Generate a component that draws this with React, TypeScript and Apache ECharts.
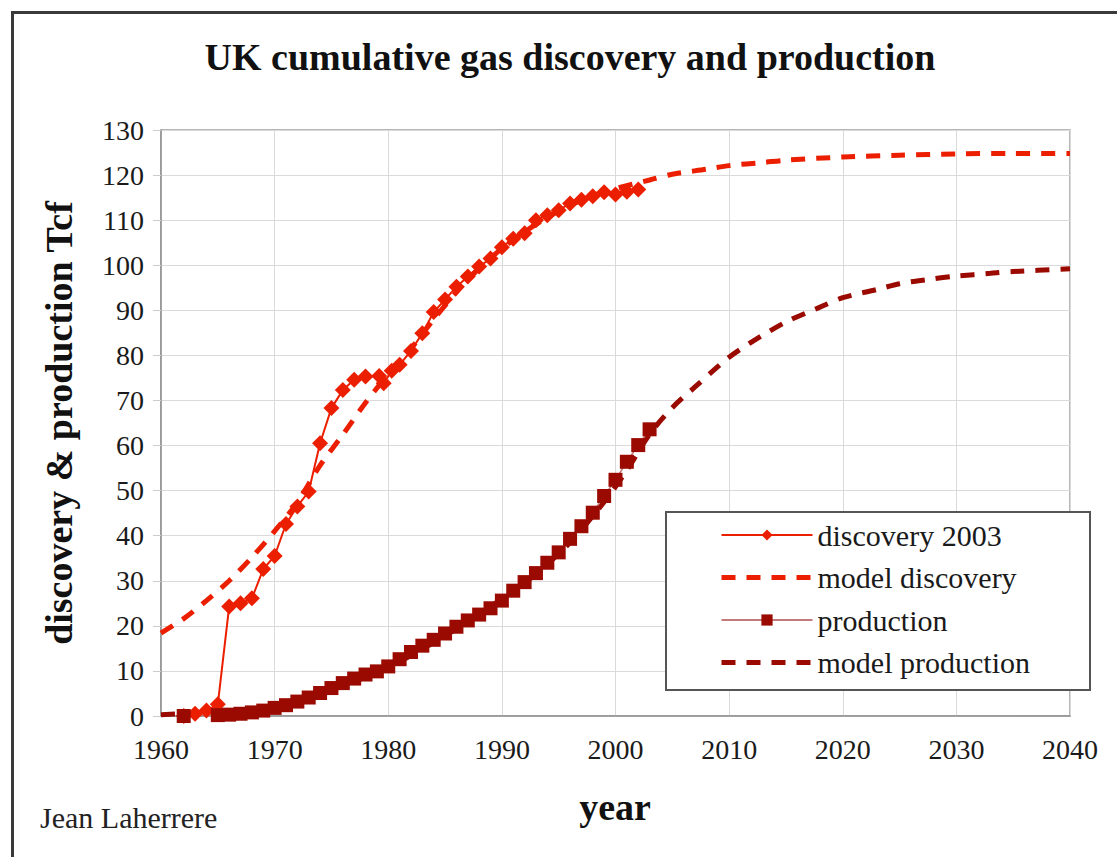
import React, { useEffect, useRef } from "react";
import * as echarts from "echarts";

const FONT = "'Liberation Serif', 'Times New Roman', serif";

const TITLE = "UK cumulative gas discovery and production";
const Y_NAME = "discovery & production Tcf";
const X_NAME = "year";
const AUTHOR = "Jean Laherrere";

const xTicks = { min: 1960, max: 2040, step: 10 };
const yTicks = { min: 0, max: 130, step: 10 };

const discoveryYears = [1962, 1963, 1964, 1965, 1966, 1967, 1968, 1969, 1970, 1971, 1972, 1973, 1974, 1975, 1976, 1977, 1978, 1979.2, 1979.6, 1980.3, 1981, 1982, 1983, 1984, 1985, 1986, 1987, 1988, 1989, 1990, 1991, 1992, 1993, 1994, 1995, 1996, 1997, 1998, 1999, 2000, 2001, 2002];
const discoveryValues = [0, 0.5, 1.2, 2.6, 24.3, 25.0, 26.1, 32.6, 35.5, 42.6, 46.5, 49.8, 60.5, 68.3, 72.3, 74.6, 75.3, 75.4, 73.8, 76.6, 77.9, 81.0, 84.9, 89.6, 92.4, 95.2, 97.5, 99.7, 101.5, 104.0, 105.9, 107.1, 110.0, 111.1, 112.2, 113.7, 114.5, 115.3, 116.2, 115.7, 116.3, 116.8];

const modelDiscoveryYears = [1960, 1962, 1964, 1966, 1968, 1970, 1972, 1974, 1976, 1978, 1980, 1982, 1984, 1986, 1988, 1990, 1992, 1994, 1996, 1998, 2000, 2003, 2005, 2008, 2010, 2013, 2015, 2020, 2025, 2030, 2035, 2040];
const modelDiscoveryValues = [18.4, 21.6, 25.6, 30.0, 35.2, 41.0, 47.4, 55.6, 62.4, 69.5, 75.8, 81.5, 88.0, 94.0, 99.3, 103.7, 107.4, 110.6, 113.3, 115.4, 117.0, 118.9, 120.2, 121.3, 122.1, 122.8, 123.3, 124.0, 124.4, 124.7, 124.8, 124.8];

const productionYears = [1962, 1965, 1966, 1967, 1968, 1969, 1970, 1971, 1972, 1973, 1974, 1975, 1976, 1977, 1978, 1979, 1980, 1981, 1982, 1983, 1984, 1985, 1986, 1987, 1988, 1989, 1990, 1991, 1992, 1993, 1994, 1995, 1996, 1997, 1998, 1999, 2000, 2001, 2002, 2003];
const productionValues = [0, 0.2, 0.3, 0.5, 0.8, 1.2, 1.8, 2.4, 3.2, 4.1, 5.1, 6.2, 7.3, 8.3, 9.2, 9.9, 11.0, 12.6, 14.2, 15.6, 16.9, 18.3, 19.8, 21.2, 22.5, 23.9, 25.6, 27.8, 29.7, 31.7, 34.0, 36.3, 39.3, 42.1, 45.1, 48.8, 52.4, 56.4, 60.1, 63.6];

const modelProductionYears = [1960, 1963, 1966, 1970, 1975, 1980, 1985, 1990, 1993, 1996, 1999, 2001, 2003, 2005, 2007, 2009, 2010, 2012, 2015, 2018, 2020, 2023, 2025, 2028, 2030, 2033, 2035, 2040];
const modelProductionValues = [0.3, 0.6, 1.0, 2.2, 5.8, 10.8, 17.8, 26.0, 31.5, 38.5, 47.5, 54.5, 62.5, 68.4, 73.0, 77.5, 79.6, 83.0, 87.4, 90.7, 92.8, 94.6, 95.9, 97.0, 97.6, 98.2, 98.6, 99.2];

const seriesNames = ["discovery 2003", "model discovery", "production", "model production"];

const RED = "#ec1e00";
const DARK = "#9a0a00";

const zip = (xs: number[], ys: number[]) => xs.map((x, i) => [x, ys[i]]);

export default function App() {
  const ref = useRef<HTMLDivElement>(null);
  useEffect(() => {
    const chart = echarts.init(ref.current!, null, { renderer: "svg" });
    chart.setOption({
      animation: false,
      backgroundColor: "#ffffff",
      textStyle: { fontFamily: FONT },
      grid: {
        left: 161,
        right: 47,
        top: 130,
        bottom: 141,
        show: true,
        borderColor: "#a0a0a0",
        borderWidth: 1.5,
      },
      xAxis: {
        type: "value",
        min: xTicks.min,
        max: xTicks.max,
        interval: xTicks.step,
        axisLine: { show: true, lineStyle: { color: "#909090", width: 1.5 } },
        axisTick: { show: false },
        splitLine: { show: true, lineStyle: { color: "#dadada", width: 1 } },
        axisLabel: {
          fontFamily: FONT,
          fontSize: 28,
          color: "#1a1a1a",
          margin: 19,
          formatter: (v: number) => String(v),
        },
      },
      yAxis: {
        type: "value",
        min: yTicks.min,
        max: yTicks.max,
        interval: yTicks.step,
        axisLine: { show: true, lineStyle: { color: "#909090", width: 1.5 } },
        axisTick: { show: true, length: 8, lineStyle: { color: "#cccccc" } },
        splitLine: { show: true, lineStyle: { color: "#dadada", width: 1 } },
        axisLabel: { fontFamily: FONT, fontSize: 28, color: "#1a1a1a", margin: 17 },
      },
      legend: {
        orient: "vertical",
        left: 719,
        top: 520,
        padding: 0,
        itemWidth: 91,
        itemHeight: 14,
        itemGap: 12.5,
        z: 10,
        data: [
          { name: seriesNames[0] },
          { name: seriesNames[1], itemStyle: { opacity: 0 }, lineStyle: { width: 5, type: [14, 11] } },
          { name: seriesNames[2] },
          { name: seriesNames[3], itemStyle: { opacity: 0 }, lineStyle: { width: 5, type: [14, 11] } },
        ],
        textStyle: { fontFamily: FONT, fontSize: 30, color: "#1a1a1a" },
      },
      graphic: [
        {
          type: "rect",
          z: 100,
          shape: { x: 12.5, y: 12.5, width: 1200, height: 1000 },
          style: { fill: "none", stroke: "#3a3a3a", lineWidth: 3 },
          silent: true,
        },
        {
          type: "rect",
          z: 3,
          shape: { x: 666, y: 512, width: 424, height: 178 },
          style: { fill: "#ffffff", stroke: "#555555", lineWidth: 2 },
          silent: true,
        },
        {
          type: "text",
          x: 570,
          y: 57,
          style: {
            text: TITLE,
            textAlign: "center",
            textVerticalAlign: "middle",
            font: `bold 38px ${FONT}`,
            fill: "#111",
          },
        },
        {
          type: "text",
          x: 59,
          y: 423,
          rotation: Math.PI / 2,
          style: {
            text: Y_NAME,
            textAlign: "center",
            textVerticalAlign: "middle",
            font: `bold 38px ${FONT}`,
            fill: "#111",
          },
        },
        {
          type: "text",
          x: 615,
          y: 807,
          style: {
            text: X_NAME,
            textAlign: "center",
            textVerticalAlign: "middle",
            font: `bold 38px ${FONT}`,
            fill: "#111",
          },
        },
        {
          type: "text",
          x: 40,
          y: 817,
          style: {
            text: AUTHOR,
            textAlign: "left",
            textVerticalAlign: "middle",
            font: `30px ${FONT}`,
            fill: "#222",
          },
        },
      ],
      series: [
        {
          name: seriesNames[0],
          type: "line",
          data: zip(discoveryYears, discoveryValues),
          symbol: "diamond",
          symbolSize: 16,
          itemStyle: { color: RED },
          lineStyle: { color: RED, width: 2 },
          z: 3,
        },
        {
          name: seriesNames[1],
          type: "line",
          data: zip(modelDiscoveryYears, modelDiscoveryValues),
          symbol: "none",
          smooth: 0.3,
          itemStyle: { color: RED },
          lineStyle: { color: RED, width: 5, type: [14, 11] },
          z: 2,
        },
        {
          name: seriesNames[2],
          type: "line",
          data: zip(productionYears, productionValues),
          symbol: "rect",
          symbolSize: 14,
          itemStyle: { color: DARK },
          lineStyle: { color: "#c27a7a", width: 1.5 },
          z: 3,
        },
        {
          name: seriesNames[3],
          type: "line",
          data: zip(modelProductionYears, modelProductionValues),
          symbol: "none",
          smooth: 0.3,
          itemStyle: { color: DARK },
          lineStyle: { color: DARK, width: 5, type: [14, 11] },
          z: 2,
        },
      ],
    });
    return () => chart.dispose();
  }, []);
  return (
    <div
      ref={ref}
      style={{ position: "fixed", left: 0, top: 0, width: 1117, height: 857, background: "#fff" }}
    />
  );
}
